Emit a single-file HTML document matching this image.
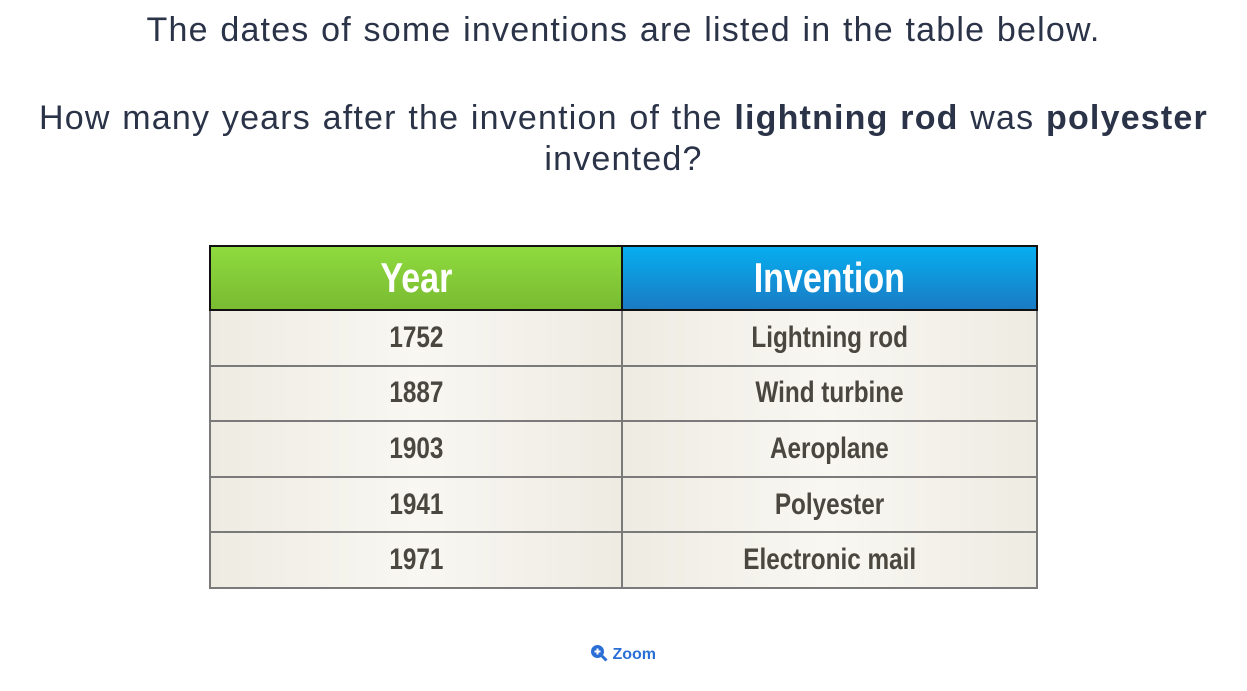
<!DOCTYPE html>
<html><head><meta charset="utf-8">
<style>
body{margin:0;width:1247px;height:691px;background:#fff;font-family:"Liberation Sans",sans-serif;color:#2a3347;position:relative;overflow:hidden}
.t{position:absolute;left:0;width:1247px;text-align:center;font-size:34px;line-height:41px;letter-spacing:1.2px;word-spacing:1px}
table{position:absolute;left:209px;top:245px;border-collapse:collapse;font-family:"Liberation Sans",sans-serif;font-weight:bold}
td,th{border:2px solid #7a7a7a;text-align:center;padding:0}
th{height:62px;color:#fff;font-size:42px;border:2px solid #111}
td{height:53.6px;font-size:30px;color:#4a4740;background:linear-gradient(90deg,#eeebe2,#f8f7f2 50%,#eeebe2)}
td span,th span{display:inline-block;transform:scaleX(0.81)}
.zoom{position:absolute;left:590px;top:644px;color:#2b6fd6;font-size:16px;font-weight:bold}
</style></head><body>
<div class="t" style="top:10px">The dates of some inventions are listed in the table below.</div>
<div class="t" style="top:98px">How many years after the invention of the <b>lightning rod</b> was <b>polyester</b><br>invented?</div>
<table>
<tr><th style="width:410px;background:linear-gradient(#8fdb3e,#79bb32)"><span>Year</span></th><th style="width:413px;background:linear-gradient(#06aef0,#1a7bc4)"><span>Invention</span></th></tr>
<tr><td><span>1752</span></td><td><span>Lightning rod</span></td></tr>
<tr><td><span>1887</span></td><td><span>Wind turbine</span></td></tr>
<tr><td><span>1903</span></td><td><span>Aeroplane</span></td></tr>
<tr><td><span>1941</span></td><td><span>Polyester</span></td></tr>
<tr><td><span>1971</span></td><td><span>Electronic mail</span></td></tr>
</table>
<div class="zoom"><svg width="18" height="18" viewBox="0 0 18 18" style="vertical-align:-3px"><circle cx="7.5" cy="7.5" r="6.5" fill="#2b6fd6"/><path d="M7.5 4.5v6M4.5 7.5h6" stroke="#fff" stroke-width="2"/><path d="M12 12l4.5 4.5" stroke="#2b6fd6" stroke-width="3"/></svg> Zoom</div>
</body></html>
